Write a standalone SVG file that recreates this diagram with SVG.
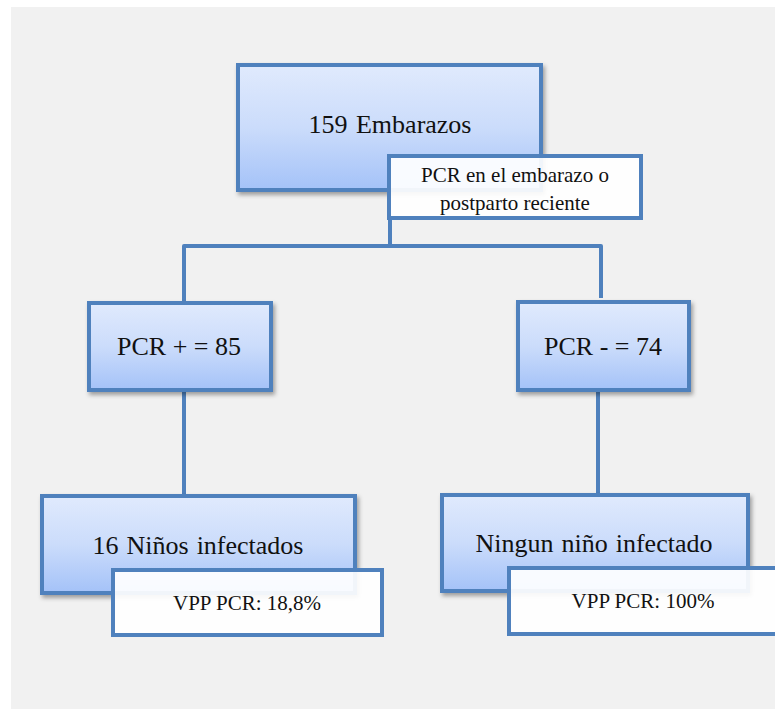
<svg xmlns="http://www.w3.org/2000/svg" width="775" height="709" viewBox="0 0 775 709" font-family="'Liberation Serif', 'Times New Roman', serif">
  <defs>
    <linearGradient id="blueFill" x1="0" y1="0" x2="0" y2="1">
      <stop offset="0" stop-color="#e0eafd"/>
      <stop offset="0.5" stop-color="#cbdcfb"/>
      <stop offset="1" stop-color="#a4c2f8"/>
    </linearGradient>
    <filter id="shadow" x="-10%" y="-10%" width="125%" height="135%">
      <feDropShadow dx="2" dy="3" stdDeviation="2" flood-color="#000" flood-opacity="0.35"/>
    </filter>
  </defs>
  <style>
    .box { fill: url(#blueFill); stroke: #4f81bd; stroke-width: 4; filter: url(#shadow); }
    .note { fill: #ffffff; fill-opacity: 0.92; stroke: #4f81bd; stroke-width: 4; }
    .conn { fill: none; stroke: #4f81bd; stroke-width: 4; stroke-linejoin: round; }
    text { font-family: "Liberation Serif", "Times New Roman", serif; fill: #111; text-anchor: middle; }
    .big { font-size: 26px; }
    .small { font-size: 21px; }
  </style>

  <!-- background panel -->
  <rect x="11" y="7" width="764" height="702" fill="#f1f1f1"/>

  <!-- connectors -->
  <g id="connectors">
    <path class="conn" d="M390 220 V246 M184 301 V246 H601 V298"/>
    <path class="conn" d="M184 392 V494"/>
    <path class="conn" d="M598 392 V493"/>
  </g>

  <g id="embarazos">
    <rect class="box" x="238" y="65" width="303" height="125"/>
    <text class="big" x="390" y="133" word-spacing="2">159 Embarazos</text>
  </g>

  <g id="pcr-note">
    <rect class="note" x="389" y="156" width="252" height="62"/>
    <text class="small" x="515" y="182">PCR en el embarazo o</text>
    <text class="small" x="515" y="210">postparto reciente</text>
  </g>

  <g id="pcr-pos">
    <rect class="box" x="89" y="303" width="182" height="87"/>
    <text class="big" x="179" y="355">PCR + = 85</text>
  </g>

  <g id="pcr-neg">
    <rect class="box" x="518" y="302" width="171" height="88"/>
    <text class="big" x="603" y="355">PCR - = 74</text>
  </g>

  <g id="infectados">
    <rect class="box" x="42" y="496" width="313" height="97"/>
    <text class="big" x="198" y="554" word-spacing="1.5">16 Niños infectados</text>
  </g>

  <g id="vpp-pos">
    <rect class="note" x="113" y="570" width="269" height="65"/>
    <text class="small" x="247" y="610">VPP PCR: 18,8%</text>
  </g>

  <g id="ninguno">
    <rect class="box" x="442" y="495" width="306" height="96"/>
    <text class="big" x="594" y="552" word-spacing="1.5">Ningun niño infectado</text>
  </g>

  <g id="vpp-neg">
    <rect class="note" x="509" y="568" width="271" height="66"/>
    <text class="small" x="643" y="608">VPP PCR: 100%</text>
  </g>
</svg>
